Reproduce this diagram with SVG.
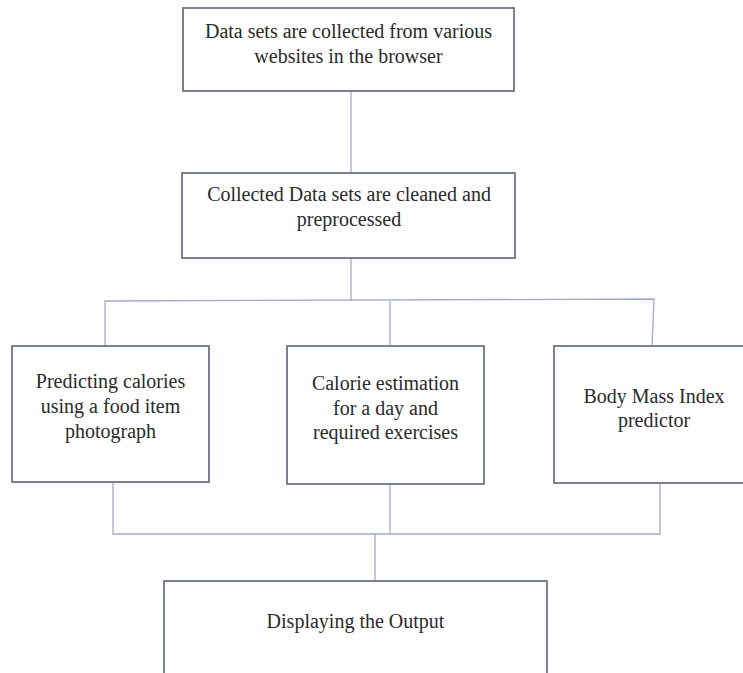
<svg xmlns="http://www.w3.org/2000/svg" width="743" height="673" viewBox="0 0 743 673">
<style>
.box{fill:#ffffff;stroke:#6e7587;stroke-width:1.8}
.lbl{font-family:"Liberation Serif","Times New Roman",serif;font-size:20px;fill:#2a2a2a;text-anchor:middle}
.con{fill:none;stroke:#a3aac6;stroke-width:1.3}
</style>
<rect width="743" height="673" fill="#ffffff"/>
<g id="connectors">
<line class="con" x1="351" y1="91" x2="351" y2="173"/>
<line class="con" x1="351" y1="258" x2="351" y2="301"/>
<polyline class="con" points="105,346 105,301 654,299 652,346"/>
<line class="con" x1="390" y1="301" x2="390" y2="346"/>
<polyline class="con" points="113,483 113,534 660,534 660,484"/>
<line class="con" x1="390" y1="484" x2="390" y2="534"/>
<line class="con" x1="375" y1="534" x2="375" y2="581"/>
</g>
<g id="n1">
<rect class="box" x="183" y="8" width="331" height="83"/>
<text class="lbl" x="348.5" y="37.5">Data sets are collected from various</text>
<text class="lbl" x="348.5" y="63">websites in the browser</text>
</g>
<g id="n2">
<rect class="box" x="182" y="173" width="333" height="85"/>
<text class="lbl" x="349" y="201">Collected Data sets are cleaned and</text>
<text class="lbl" x="349" y="226">preprocessed</text>
</g>
<g id="n3">
<rect class="box" x="12" y="346" width="197" height="136"/>
<text class="lbl" x="110.5" y="388">Predicting calories</text>
<text class="lbl" x="110.5" y="413">using a food item</text>
<text class="lbl" x="110.5" y="438">photograph</text>
</g>
<g id="n4">
<rect class="box" x="287" y="346" width="197" height="138"/>
<text class="lbl" x="385.5" y="390">Calorie estimation</text>
<text class="lbl" x="385.5" y="414.5">for a day and</text>
<text class="lbl" x="385.5" y="439">required exercises</text>
</g>
<g id="n5">
<rect class="box" x="554" y="346" width="200" height="137"/>
<text class="lbl" x="654" y="403">Body Mass Index</text>
<text class="lbl" x="654" y="427">predictor</text>
</g>
<g id="n6">
<rect class="box" x="164" y="581" width="383" height="110"/>
<text class="lbl" x="355.5" y="628">Displaying the Output</text>
</g>
</svg>
